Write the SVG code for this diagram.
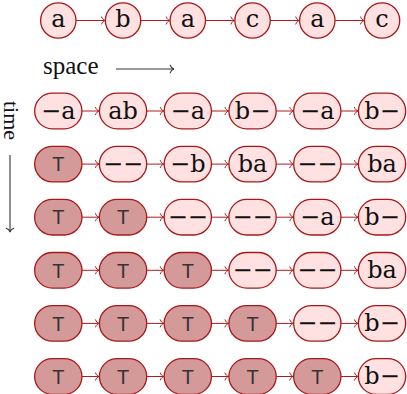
<svg xmlns="http://www.w3.org/2000/svg" width="407" height="394" viewBox="0 0 407 394">
<style>
.n{fill:#ffe1e1;stroke:#a81818;stroke-width:1.3}
.d{fill:#d49a9a;stroke:#a81818;stroke-width:1.3}
.t{font-family:"DejaVu Serif",serif;font-size:24px;fill:#111;text-anchor:middle}
.T{font-family:"Liberation Sans",Arial,sans-serif;font-size:20px;fill:#333;text-anchor:middle}
.lbl{font-family:"Liberation Serif",serif;font-size:25px;fill:#111}
.c line{stroke:#b01c1c;stroke-width:1;marker-end:url(#ah)}
.ax{stroke:#333;stroke-width:1.1;marker-end:url(#ak)}
</style>
<defs>
<marker id="ah" markerUnits="userSpaceOnUse" viewBox="-5 -4 6 8" refX="0" refY="0" markerWidth="6" markerHeight="8" orient="auto" overflow="visible">
<path d="M-3.6,-3.6 C-3,-1.6 -1.2,-0.3 0,0 C-1.2,0.3 -3,1.6 -3.6,3.6" fill="none" stroke="#b01c1c" stroke-width="1" stroke-linecap="round"/>
</marker>
<marker id="ak" markerUnits="userSpaceOnUse" viewBox="-5 -4 6 8" refX="0" refY="0" markerWidth="6" markerHeight="8" orient="auto" overflow="visible">
<path d="M-3.8,-3.8 C-3.2,-1.6 -1.2,-0.3 0,0 C-1.2,0.3 -3.2,1.6 -3.8,3.8" fill="none" stroke="#333" stroke-width="1.1" stroke-linecap="round"/>
</marker>
</defs>

<!-- top row circles -->
<g id="s1"><circle class="n" cx="58.3" cy="20.5" r="17.7"/><text class="t" x="58.3" y="26.5">a</text></g>
<g id="s2"><circle class="n" cx="123.05" cy="20.5" r="17.7"/><text class="t" x="123.05" y="26.5">b</text></g>
<g id="s3"><circle class="n" cx="187.8" cy="20.5" r="17.7"/><text class="t" x="187.8" y="26.5">a</text></g>
<g id="s4"><circle class="n" cx="252.55" cy="20.5" r="17.7"/><text class="t" x="252.55" y="26.5">c</text></g>
<g id="s5"><circle class="n" cx="317.3" cy="20.5" r="17.7"/><text class="t" x="317.3" y="26.5">a</text></g>
<g id="s6"><circle class="n" cx="382.05" cy="20.5" r="17.7"/><text class="t" x="382.05" y="26.5">c</text></g>

<!-- axis labels -->
<g id="space"><text class="lbl" x="43" y="74">space</text><line class="ax" x1="116" y1="69" x2="174" y2="69"/></g>
<g id="time"><text class="lbl" transform="translate(4,101) rotate(90)" x="0" y="0" style="font-size:22px">time</text><line class="ax" x1="10" y1="155" x2="10" y2="232"/></g>

<!-- row 1 -->
<g id="r1c1"><rect class="n" x="34.65" y="93.2" width="47.3" height="35.6" rx="17.8"/><text class="t" x="58.3" y="118.5">−a</text></g>
<g id="r1c2"><rect class="n" x="99.4" y="93.2" width="47.3" height="35.6" rx="17.8"/><text class="t" x="123.05" y="118.5">ab</text></g>
<g id="r1c3"><rect class="n" x="164.15" y="93.2" width="47.3" height="35.6" rx="17.8"/><text class="t" x="187.8" y="118.5">−a</text></g>
<g id="r1c4"><rect class="n" x="228.9" y="93.2" width="47.3" height="35.6" rx="17.8"/><text class="t" x="252.55" y="118.5">b−</text></g>
<g id="r1c5"><rect class="n" x="293.65" y="93.2" width="47.3" height="35.6" rx="17.8"/><text class="t" x="317.3" y="118.5">−a</text></g>
<g id="r1c6"><rect class="n" x="358.4" y="93.2" width="47.3" height="35.6" rx="17.8"/><text class="t" x="382.05" y="118.5">b−</text></g>

<!-- row 2 -->
<g id="r2c1"><rect class="d" x="34.65" y="146.3" width="47.3" height="35.6" rx="17.8"/><text class="T" x="58.3" y="171.3">T</text></g>
<g id="r2c2"><rect class="n" x="99.4" y="146.3" width="47.3" height="35.6" rx="17.8"/><text class="t" x="123.05" y="171.6">−−</text></g>
<g id="r2c3"><rect class="n" x="164.15" y="146.3" width="47.3" height="35.6" rx="17.8"/><text class="t" x="187.8" y="171.6">−b</text></g>
<g id="r2c4"><rect class="n" x="228.9" y="146.3" width="47.3" height="35.6" rx="17.8"/><text class="t" x="252.55" y="171.6">ba</text></g>
<g id="r2c5"><rect class="n" x="293.65" y="146.3" width="47.3" height="35.6" rx="17.8"/><text class="t" x="317.3" y="171.6">−−</text></g>
<g id="r2c6"><rect class="n" x="358.4" y="146.3" width="47.3" height="35.6" rx="17.8"/><text class="t" x="382.05" y="171.6">ba</text></g>

<!-- row 3 -->
<g id="r3c1"><rect class="d" x="34.65" y="199.4" width="47.3" height="35.6" rx="17.8"/><text class="T" x="58.3" y="224.4">T</text></g>
<g id="r3c2"><rect class="d" x="99.4" y="199.4" width="47.3" height="35.6" rx="17.8"/><text class="T" x="123.05" y="224.4">T</text></g>
<g id="r3c3"><rect class="n" x="164.15" y="199.4" width="47.3" height="35.6" rx="17.8"/><text class="t" x="187.8" y="224.7">−−</text></g>
<g id="r3c4"><rect class="n" x="228.9" y="199.4" width="47.3" height="35.6" rx="17.8"/><text class="t" x="252.55" y="224.7">−−</text></g>
<g id="r3c5"><rect class="n" x="293.65" y="199.4" width="47.3" height="35.6" rx="17.8"/><text class="t" x="317.3" y="224.7">−a</text></g>
<g id="r3c6"><rect class="n" x="358.4" y="199.4" width="47.3" height="35.6" rx="17.8"/><text class="t" x="382.05" y="224.7">b−</text></g>

<!-- row 4 -->
<g id="r4c1"><rect class="d" x="34.65" y="252.5" width="47.3" height="35.6" rx="17.8"/><text class="T" x="58.3" y="277.5">T</text></g>
<g id="r4c2"><rect class="d" x="99.4" y="252.5" width="47.3" height="35.6" rx="17.8"/><text class="T" x="123.05" y="277.5">T</text></g>
<g id="r4c3"><rect class="d" x="164.15" y="252.5" width="47.3" height="35.6" rx="17.8"/><text class="T" x="187.8" y="277.5">T</text></g>
<g id="r4c4"><rect class="n" x="228.9" y="252.5" width="47.3" height="35.6" rx="17.8"/><text class="t" x="252.55" y="277.8">−−</text></g>
<g id="r4c5"><rect class="n" x="293.65" y="252.5" width="47.3" height="35.6" rx="17.8"/><text class="t" x="317.3" y="277.8">−−</text></g>
<g id="r4c6"><rect class="n" x="358.4" y="252.5" width="47.3" height="35.6" rx="17.8"/><text class="t" x="382.05" y="277.8">ba</text></g>

<!-- row 5 -->
<g id="r5c1"><rect class="d" x="34.65" y="305.6" width="47.3" height="35.6" rx="17.8"/><text class="T" x="58.3" y="330.6">T</text></g>
<g id="r5c2"><rect class="d" x="99.4" y="305.6" width="47.3" height="35.6" rx="17.8"/><text class="T" x="123.05" y="330.6">T</text></g>
<g id="r5c3"><rect class="d" x="164.15" y="305.6" width="47.3" height="35.6" rx="17.8"/><text class="T" x="187.8" y="330.6">T</text></g>
<g id="r5c4"><rect class="d" x="228.9" y="305.6" width="47.3" height="35.6" rx="17.8"/><text class="T" x="252.55" y="330.6">T</text></g>
<g id="r5c5"><rect class="n" x="293.65" y="305.6" width="47.3" height="35.6" rx="17.8"/><text class="t" x="317.3" y="330.9">−−</text></g>
<g id="r5c6"><rect class="n" x="358.4" y="305.6" width="47.3" height="35.6" rx="17.8"/><text class="t" x="382.05" y="330.9">b−</text></g>

<!-- row 6 -->
<g id="r6c1"><rect class="d" x="34.65" y="358.7" width="47.3" height="35.6" rx="17.8"/><text class="T" x="58.3" y="383.7">T</text></g>
<g id="r6c2"><rect class="d" x="99.4" y="358.7" width="47.3" height="35.6" rx="17.8"/><text class="T" x="123.05" y="383.7">T</text></g>
<g id="r6c3"><rect class="d" x="164.15" y="358.7" width="47.3" height="35.6" rx="17.8"/><text class="T" x="187.8" y="383.7">T</text></g>
<g id="r6c4"><rect class="d" x="228.9" y="358.7" width="47.3" height="35.6" rx="17.8"/><text class="T" x="252.55" y="383.7">T</text></g>
<g id="r6c5"><rect class="d" x="293.65" y="358.7" width="47.3" height="35.6" rx="17.8"/><text class="T" x="317.3" y="383.7">T</text></g>
<g id="r6c6"><rect class="n" x="358.4" y="358.7" width="47.3" height="35.6" rx="17.8"/><text class="t" x="382.05" y="384">b−</text></g>

<!-- connectors -->
<g id="connectors" class="c">
<line x1="76" y1="20.5" x2="105.1" y2="20.5"/>
<line x1="140.75" y1="20.5" x2="169.85" y2="20.5"/>
<line x1="205.5" y1="20.5" x2="234.6" y2="20.5"/>
<line x1="270.25" y1="20.5" x2="299.35" y2="20.5"/>
<line x1="335" y1="20.5" x2="364.1" y2="20.5"/>

<line x1="81.95" y1="111" x2="99.1" y2="111"/>
<line x1="146.7" y1="111" x2="163.85" y2="111"/>
<line x1="211.45" y1="111" x2="228.6" y2="111"/>
<line x1="276.2" y1="111" x2="293.35" y2="111"/>
<line x1="340.95" y1="111" x2="358.1" y2="111"/>

<line x1="81.95" y1="164.1" x2="99.1" y2="164.1"/>
<line x1="146.7" y1="164.1" x2="163.85" y2="164.1"/>
<line x1="211.45" y1="164.1" x2="228.6" y2="164.1"/>
<line x1="276.2" y1="164.1" x2="293.35" y2="164.1"/>
<line x1="340.95" y1="164.1" x2="358.1" y2="164.1"/>

<line x1="81.95" y1="217.2" x2="99.1" y2="217.2"/>
<line x1="146.7" y1="217.2" x2="163.85" y2="217.2"/>
<line x1="211.45" y1="217.2" x2="228.6" y2="217.2"/>
<line x1="276.2" y1="217.2" x2="293.35" y2="217.2"/>
<line x1="340.95" y1="217.2" x2="358.1" y2="217.2"/>

<line x1="81.95" y1="270.3" x2="99.1" y2="270.3"/>
<line x1="146.7" y1="270.3" x2="163.85" y2="270.3"/>
<line x1="211.45" y1="270.3" x2="228.6" y2="270.3"/>
<line x1="276.2" y1="270.3" x2="293.35" y2="270.3"/>
<line x1="340.95" y1="270.3" x2="358.1" y2="270.3"/>

<line x1="81.95" y1="323.4" x2="99.1" y2="323.4"/>
<line x1="146.7" y1="323.4" x2="163.85" y2="323.4"/>
<line x1="211.45" y1="323.4" x2="228.6" y2="323.4"/>
<line x1="276.2" y1="323.4" x2="293.35" y2="323.4"/>
<line x1="340.95" y1="323.4" x2="358.1" y2="323.4"/>

<line x1="81.95" y1="376.5" x2="99.1" y2="376.5"/>
<line x1="146.7" y1="376.5" x2="163.85" y2="376.5"/>
<line x1="211.45" y1="376.5" x2="228.6" y2="376.5"/>
<line x1="276.2" y1="376.5" x2="293.35" y2="376.5"/>
<line x1="340.95" y1="376.5" x2="358.1" y2="376.5"/>
</g>
</svg>
